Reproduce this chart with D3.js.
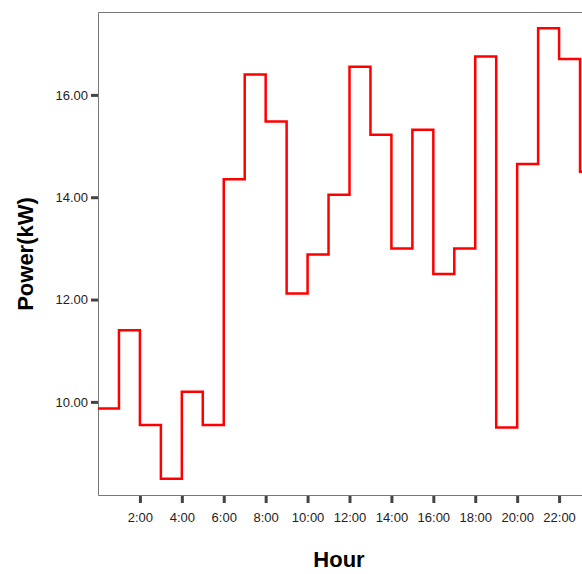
<!DOCTYPE html>
<html lang="en">
<head>
<meta charset="UTF-8">
<script src="https://cdnjs.cloudflare.com/ajax/libs/d3/7.8.5/d3.min.js"></script>
<style>
  body { margin: 0; background: #fff; }
  svg { display: block; font-family: "Liberation Sans", Arial, sans-serif; }
</style>
</head>
<body>
<svg width="582" height="574"></svg>
<script>
// hourly power, value of hour h holds from h to h+1
const hours = d3.range(0, 24);
const power = [9.87, 11.4, 9.55, 8.5, 10.2, 9.55, 14.35, 16.4, 15.48, 12.12, 12.88, 14.05,
               16.55, 15.22, 13.0, 15.32, 12.5, 13.0, 16.75, 9.5, 14.65, 17.3, 16.7, 14.5];
const xTicks = [2, 4, 6, 8, 10, 12, 14, 16, 18, 20, 22];
const yTicks = [10, 12, 14, 16];

const svg = d3.select("svg");
const x = d3.scaleLinear().domain([0, 24]).range([98, 601]);
const y = d3.scaleLinear().domain([8.18, 17.62]).range([495, 12]);

// frame: left, bottom, top
svg.append("path")
  .attr("d", `M582,12.5H98.5V495.5H582`)
  .attr("fill", "none").attr("stroke", "#777").attr("stroke-width", 1);

const pts = hours.map((h, i) => [h, power[i]]);
pts.push([24, power[23]]);
const line = d3.line().x(d => x(d[0])).y(d => y(d[1])).curve(d3.curveStepAfter);
svg.append("path").datum(pts)
  .attr("d", line)
  .attr("fill", "none").attr("stroke", "#ff0000").attr("stroke-width", 2.5);

const xAxis = svg.append("g").attr("transform", "translate(0,496)")
  .call(d3.axisBottom(x).tickValues(xTicks).tickSize(7).tickFormat(d => d + ":00"));
const yAxis = svg.append("g").attr("transform", "translate(98,0)")
  .call(d3.axisLeft(y).tickValues(yTicks).tickSize(7).tickFormat(d3.format(".2f")));
[xAxis, yAxis].forEach(g => {
  g.select(".domain").remove();
  g.selectAll(".tick line").attr("stroke", "#444").attr("stroke-width", 3);
  g.selectAll(".tick text").attr("font-size", 13).attr("fill", "#222")
    .attr("font-family", "Liberation Sans, Arial, sans-serif");
});
xAxis.selectAll(".tick text").attr("dy", "1.2em");

svg.append("text").attr("x", 339).attr("y", 567).attr("text-anchor", "middle")
  .attr("font-size", 22).attr("font-weight", "bold").text("Hour");
svg.append("text").attr("transform", "translate(33,254) rotate(-90)")
  .attr("text-anchor", "middle").attr("font-size", 22).attr("font-weight", "bold")
  .text("Power(kW)");
</script>
</body>
</html>
